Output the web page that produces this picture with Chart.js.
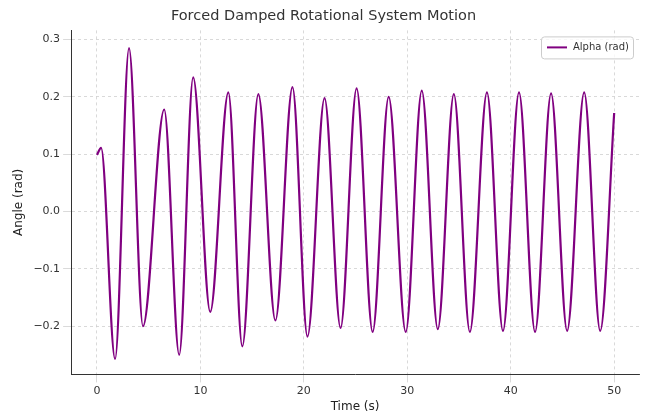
<!DOCTYPE html>
<html><head><meta charset="utf-8">
<script src="https://cdn.jsdelivr.net/npm/chart.js@4"></script>
<style>html,body{margin:0;padding:0;background:#fff}#w{width:663px;height:416px}</style>
</head><body><div id="w"><canvas id="c"></canvas></div>
<script>
const times = [0,0.4,1.75,3.1,4.45,6.5,7.95,9.3,10.95,12.7,14.05,15.6,17.25,18.9,20.35,22.0,23.55,25.1,26.65,28.2,29.85,31.4,32.95,34.5,36.05,37.7,39.25,40.8,42.35,43.9,45.45,47.1,48.65,50];
const alpha = [0.099,0.111,-0.257,0.285,-0.2,0.178,-0.25,0.234,-0.175,0.208,-0.235,0.205,-0.19,0.217,-0.218,0.198,-0.203,0.215,-0.21,0.2,-0.21,0.211,-0.205,0.205,-0.21,0.208,-0.208,0.208,-0.21,0.206,-0.208,0.208,-0.208,0.172];
const yTicks = [-0.2,-0.1,0,0.1,0.2,0.3];
const xTicks = [0,10,20,30,40,50];
const legendPlugin = {id:'lg',afterDraw(ch){const c=ch.ctx,a=ch.chartArea;const w=92,h=22,x=a.right-w-6,y=a.top+6;
c.save();c.fillStyle='rgba(255,255,255,0.8)';c.strokeStyle='#ccc';c.lineWidth=1;c.beginPath();c.roundRect(x+0.5,y+0.5,w,h,3);c.fill();c.stroke();
c.strokeStyle='#800080';c.lineWidth=2;c.beginPath();c.moveTo(x+6,y+11);c.lineTo(x+26,y+11);c.stroke();
c.fillStyle='#333';c.font='10px "DejaVu Sans"';c.textBaseline='middle';c.fillText('Alpha (rad)',x+32,y+11.5);c.restore();}};
const grid={color:'#d0d0d0',lineWidth:0.8};
new Chart(document.getElementById('c'),{type:'line',
data:{datasets:[{label:'Alpha (rad)',data:times.map((t,i)=>({x:t,y:alpha[i]})),borderColor:'#800080',borderWidth:2.2,pointRadius:0,cubicInterpolationMode:'monotone',fill:false}]},
options:{responsive:true,maintainAspectRatio:false,animation:false,
layout:{padding:{left:8,right:24,top:2,bottom:0}},
plugins:{legend:{display:false},tooltip:{enabled:false},
title:{display:true,text:'Forced Damped Rotational System Motion',color:'#333',font:{family:'DejaVu Sans',size:14.5,weight:'normal'},padding:{top:6,bottom:5}}},
scales:{
x:{type:'linear',min:-2.5,max:52.4,afterBuildTicks:s=>{s.ticks=xTicks.map(v=>({value:v}))},grid:grid,border:{color:'#333',dash:[3,3]},
ticks:{color:'#333',font:{family:'DejaVu Sans',size:11},maxRotation:0,padding:2},title:{display:true,text:'Time (s)',color:'#222',font:{family:'DejaVu Sans',size:12},padding:{top:0,bottom:2}}},
y:{min:-0.284,max:0.316,afterBuildTicks:s=>{s.ticks=yTicks.map(v=>({value:v}))},grid:grid,border:{color:'#333',dash:[3,3]},
ticks:{color:'#333',font:{family:'DejaVu Sans',size:11},callback:v=>(v<0?'\u2212':'')+Math.abs(v).toFixed(1)},title:{display:true,text:'Angle (rad)',color:'#222',font:{family:'DejaVu Sans',size:12}}}}},
plugins:[legendPlugin]});
</script></body></html>
